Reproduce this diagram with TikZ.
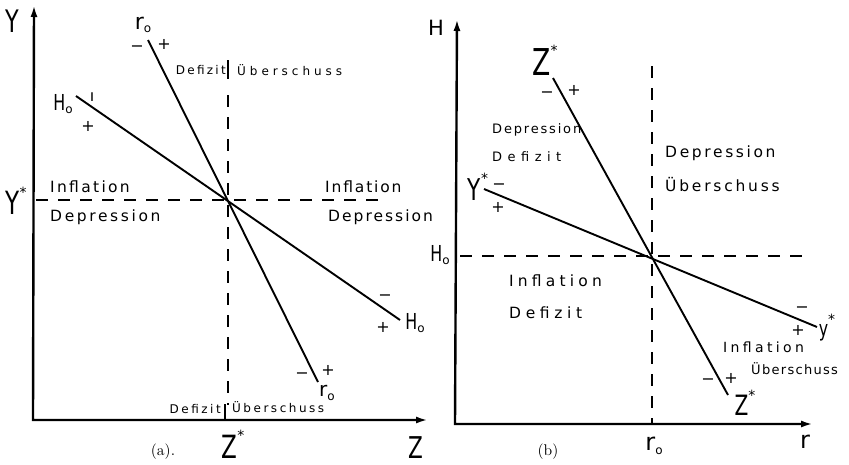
\documentclass[tikz,border=0pt]{standalone}
\usepackage{fontspec}
\usepackage{graphicx}
\newfontfamily\axf{DejaVu Sans}
\usetikzlibrary{arrows.meta}
\newcommand\lowsub[1]{\raisebox{-0.3ex}{\fontsize{12}{12}\selectfont #1}}
\newcommand\highst{\raisebox{1.0ex}{\fontsize{14}{14}\selectfont *}}
\newcommand\nar[1]{\scalebox{0.72}[1]{#1}}
\begin{document}
\begin{tikzpicture}[x=1pt,y=-1pt,
  axis/.style={line width=2.4pt,{Latex[length=12pt,width=7pt]}-{Latex[length=12pt,width=7pt]}},
  curve/.style={line width=1.9pt},
  guide/.style={line width=1.9pt,dash pattern=on 12pt off 10pt},
  sep/.style={line width=1.9pt},
  txt/.style 2 args={font=\axf\fontsize{#1}{#1}\selectfont\addfontfeature{LetterSpace=#2}, inner sep=0},
  bigl/.style={font=\axf\fontsize{#1}{#1}\selectfont, inner sep=0},
  sgn/.style={font=\axf\fontsize{16}{16}\selectfont, inner sep=0},
  captxt/.style={inner sep=0},
]
\useasboundingbox (0,0) rectangle (849,464);

% ---------------- panel (a) ----------------
\coordinate (aYtop) at (34,5);
\coordinate (aO) at (33,420);
\coordinate (aZend) at (428,420);
\draw[axis] (aYtop) -- (aO) -- (aZend);

\coordinate (aX) at (228,200);
\coordinate (aHs) at (36,200);
\coordinate (aHe) at (380,200);
\coordinate (aVs) at (228,95);
\coordinate (aVe) at (228,405);
\coordinate (aTopA) at (228,60);
\coordinate (aTopB) at (228,79);
\coordinate (aBotA) at (225,404);
\coordinate (aBotB) at (225,420);
\draw[guide] (aHs) -- (aHe);
\draw[guide] (aVs) -- (aVe);
\draw[sep] (aTopA) -- (aTopB);
\draw[sep] (aBotA) -- (aBotB);

\coordinate (aR1) at (148,40);
\coordinate (aR2) at (318,382);
\draw[curve] (aR1) -- (aR2);
\coordinate (aH1) at (76,96);
\coordinate (aH2) at (400,320);
\draw[curve] (aH1) -- (aH2);

\node[bigl=31] (aYl) at (12,21) {\nar{Y}};
\node[bigl=32] (aYs) at (16,201) {\nar{Y}\highst};
\node[bigl=22] (aR1l) at (143,25) {r\lowsub{o}};
\node[sgn] (aR1m) at (137,49) {−};
\node[sgn] (aR1p) at (164,44) {+};
\node[txt={12}{19},anchor=east] (aDef1) at (226,70) {Defizit};
\node[txt={12}{33},anchor=west] (aUeb1) at (237,70) {Überschuss};
\node[bigl=22] (aH1l) at (63,104) {\nar{H}\lowsub{o}};
\node[sgn] (aH1m) at (92,97) {ı};
\node[sgn] (aH1p) at (88,126) {+};
\node[txt={15.5}{15},anchor=west] (aInfL) at (50,187) {Inflation};
\node[txt={15.5}{17},anchor=west] (aDepL) at (50,217) {Depression};
\node[txt={15.5}{12},anchor=west] (aInfR) at (325,187) {Inflation};
\node[txt={15.5}{13},anchor=west] (aDepR) at (328,217) {Depression};
\node[sgn] (aH2m) at (385,298) {−};
\node[sgn] (aH2p) at (383,327) {+};
\node[bigl=22] (aH2l) at (415,323) {\nar{H}\lowsub{o}};
\node[sgn] (aR2m) at (302,376) {−};
\node[sgn] (aR2p) at (328,370) {+};
\node[bigl=20] (aR2l) at (327,393) {r\lowsub{o}};
\node[txt={12}{21},anchor=east] (aDef2) at (221,409) {Defizit};
\node[txt={12}{21},anchor=west] (aUeb2) at (232,407) {Überschuss};
\node[captxt] (aCap) at (163,452) {\scalebox{1.55}{(a).}};
\node[bigl=32,anchor=base] (aZs) at (233,458) {\nar{Z}\highst};
\node[bigl=30,anchor=base] (aZl) at (416,458) {\nar{Z}};

% ---------------- panel (b) ----------------
\coordinate (bHtop) at (457,19);
\coordinate (bO) at (455,424);
\coordinate (bRend) at (813,424);
\draw[axis] (bHtop) -- (bO) -- (bRend);

\coordinate (bX) at (652,256);
\coordinate (bHs) at (460,256);
\coordinate (bHe) at (802,256);
\coordinate (bVs) at (652,66);
\coordinate (bVe) at (652,424);
\draw[guide] (bHs) -- (bHe);
\draw[guide] (bVs) -- (bVe);

\coordinate (bZ1) at (553,78);
\coordinate (bZ2) at (728,395);
\draw[curve] (bZ1) -- (bZ2);
\coordinate (bY1) at (484,189);
\coordinate (bY2) at (817,327);
\draw[curve] (bY1) -- (bY2);

\node[bigl=21] (bHl) at (436,28) {H};
\node[bigl=22] (bH0) at (440,255) {\nar{H}\lowsub{o}};
\node[bigl=37] (bZ1l) at (545,60) {\nar{Z}\highst};
\node[sgn] (bZ1m) at (547,95) {−};
\node[sgn] (bZ1p) at (574,90) {+};
\node[txt={13}{14},anchor=west] (bDep1) at (492,130) {Depression};
\node[txt={13}{42},anchor=west] (bDef1) at (492,157) {Defizit};
\node[txt={15.5}{17},anchor=west] (bDep2) at (665,153) {Depression};
\node[txt={15.5}{18},anchor=west] (bUeb2) at (665,185) {Überschuss};
\node[bigl=30] (bYs) at (478,187) {\nar{Y}\highst};
\node[sgn] (bY1m) at (499,187) {−};
\node[sgn] (bY1p) at (498,207) {+};
\node[txt={15.5}{27},anchor=west] (bInf1) at (509,281) {Inflation};
\node[txt={15.5}{30},anchor=west] (bDef2) at (509,313) {Defizit};
\node[sgn] (bY2m) at (802,310) {−};
\node[sgn] (bY2p) at (798,330) {+};
\node[bigl=22] (bY2l) at (827,328) {\nar{y}\highst};
\node[txt={14}{24},anchor=west] (bInf2) at (723,347) {Inflation};
\node[txt={13}{10},anchor=west] (bUeb3) at (751,369) {Überschuss};
\node[sgn] (bZ2m) at (708,382) {−};
\node[sgn] (bZ2p) at (731,378) {+};
\node[bigl=28] (bZ2l) at (745,403) {\nar{Z}\highst};
\node[captxt] (bCap) at (548,452) {\scalebox{1.55}{(b)}};
\node[bigl=24] (bR0) at (654,446) {r\lowsub{o}};
\node[bigl=24] (bRl) at (805,442) {r};
\end{tikzpicture}
\end{document}
